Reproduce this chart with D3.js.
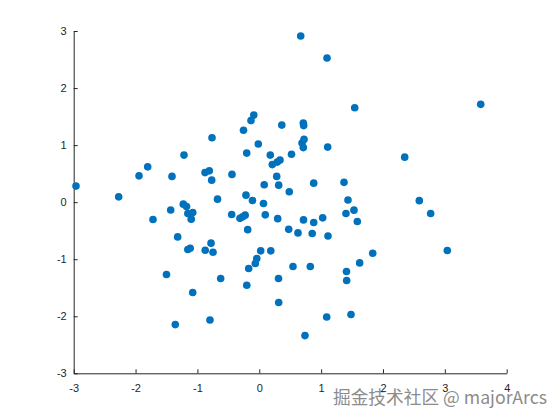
<!DOCTYPE html>
<html><head><meta charset="utf-8">
<script src="https://cdn.jsdelivr.net/npm/d3@7"></script>
<style>body{margin:0;background:#fff}svg{display:block}</style>
</head><body>
<script>
const xs = [-2.963,-2.273,-1.944,-1.804,-1.411,-1.217,-0.764,-0.877,-0.808,-0.769,-0.441,-0.675,-0.255,-0.134,-0.089,-0.203,-0.016,0.178,0.210,0.291,0.335,0.364,0.282,0.314,0.080,-0.215,-0.110,0.485,0.521,0.670,1.095,1.543,3.580,0.712,0.718,0.723,0.691,0.712,1.106,2.351,0.880,1.370,1.434,2.587,-1.432,-1.718,-1.228,-1.176,-1.155,-1.075,-1.100,-0.446,-0.312,-0.268,-0.228,0.068,0.097,0.298,0.476,-0.187,-1.319,-1.155,-1.117,-0.874,-0.780,-0.748,0.023,0.186,-0.040,-0.064,-0.171,-1.500,-0.624,0.311,-0.202,-1.076,0.314,-0.797,-1.358,2.771,1.402,1.531,1.585,0.715,0.880,1.025,0.626,0.856,1.111,1.834,1.623,3.040,0.545,0.825,1.410,1.413,1.090,1.483,0.739];
const ys = [0.281,0.093,0.461,0.619,0.451,0.825,1.128,0.518,0.549,0.386,0.486,0.053,1.260,1.430,1.526,0.860,1.018,0.825,0.658,0.702,0.737,1.351,0.451,0.298,0.304,0.123,0.030,0.181,0.839,2.912,2.526,1.654,1.714,1.386,1.342,1.100,1.035,0.956,0.965,0.789,0.333,0.347,0.039,0.026,-0.137,-0.304,-0.035,-0.075,-0.198,-0.181,-0.298,-0.216,-0.284,-0.258,-0.228,-0.023,-0.223,-0.289,-0.477,-0.482,-0.609,-0.830,-0.807,-0.842,-0.719,-0.877,-0.854,-0.854,-0.988,-1.075,-1.163,-1.267,-1.339,-1.339,-1.456,-1.584,-1.760,-2.065,-2.146,-0.198,-0.198,-0.140,-0.339,-0.311,-0.356,-0.275,-0.539,-0.549,-0.593,-0.895,-1.065,-0.847,-1.128,-1.128,-1.216,-1.374,-2.012,-1.970,-2.339];
const xTicks = [-3,-2,-1,0,1,2,3,4];
const yTicks = [-3,-2,-1,0,1,2,3];
const watermark = "掘金技术社区 @ majorArcs";

const W = 560, H = 420;
const svg = d3.select("body").append("svg").attr("width", W).attr("height", H);
const x = d3.scaleLinear().domain([-3, 4]).range([73.7, 506.7]);
const y = d3.scaleLinear().domain([-3, 3]).range([373.3, 31]);
const axisColor = "#262626";
const font = "'Liberation Sans', Arial, Helvetica, sans-serif";

svg.append("text").attr("x", 547).attr("y", 404).attr("text-anchor", "end")
  .attr("font-family", "'Noto Sans CJK SC', 'Noto Sans', sans-serif").attr("font-size", 17.7)
  .attr("fill", "#8c8c8c").attr("stroke", "#fff").attr("stroke-width", 1.5).attr("paint-order", "stroke")
  .text(watermark);

const gx = svg.append("g").attr("transform", `translate(0,${y(-3)})`)
  .call(d3.axisBottom(x).tickValues(xTicks).tickSizeInner(-4).tickSizeOuter(0).tickPadding(11).tickFormat(d3.format("d")));
const gy = svg.append("g").attr("transform", `translate(${x(-3)},0)`)
  .call(d3.axisLeft(y).tickValues(yTicks).tickSizeInner(-4).tickSizeOuter(0).tickPadding(7).tickFormat(d3.format("d")));
[gx, gy].forEach(g => {
  g.select(".domain").attr("stroke", axisColor).attr("stroke-width", 1);
  g.selectAll(".tick line").attr("stroke", axisColor).attr("stroke-width", 1);
  g.selectAll(".tick text").attr("fill", axisColor).attr("font-size", 11).attr("font-family", font);
});
gx.selectAll(".tick text").text(d => d < 0 ? "-" + Math.abs(d) : d);
gy.selectAll(".tick text").text(d => d < 0 ? "-" + Math.abs(d) : d);

svg.append("g").selectAll("circle").data(xs.map((v, i) => [v, ys[i]])).join("circle")
  .attr("cx", d => x(d[0])).attr("cy", d => y(d[1])).attr("r", 3.8).attr("fill", "#0072BD");
</script>
</body></html>
